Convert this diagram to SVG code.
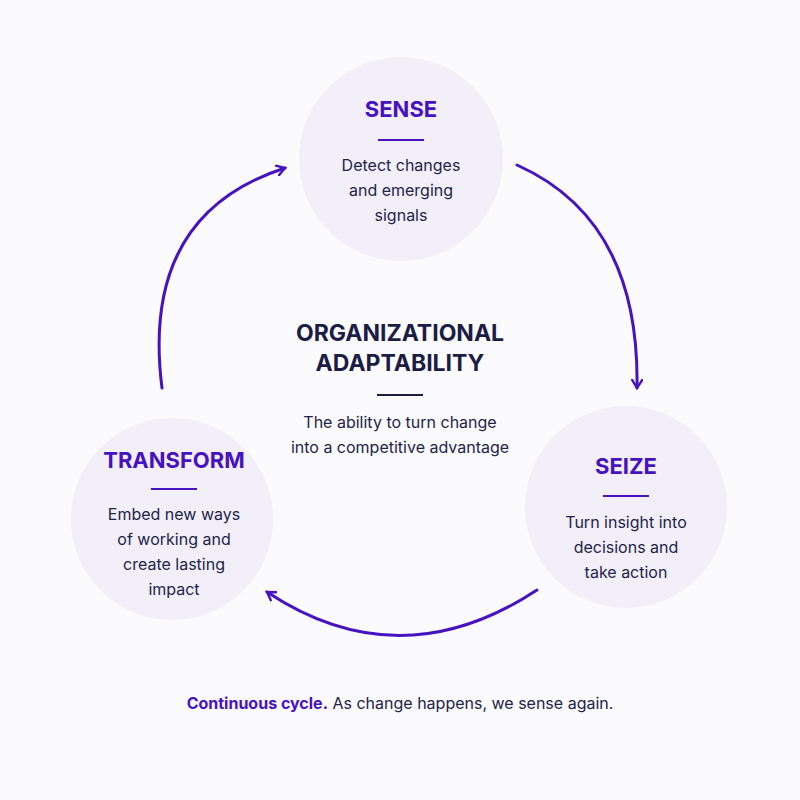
<svg xmlns="http://www.w3.org/2000/svg" width="800" height="800" viewBox="0 0 800 800">
<style>
.c{fill:#f2eff9}
.t{font-family:Inter,"Liberation Sans",sans-serif;font-weight:700;fill:#4712c0;text-anchor:middle}
.b{font-family:Inter,"Liberation Sans",sans-serif;font-size:16px;fill:#22244a;text-anchor:middle}
.r{stroke:#4712c0;stroke-width:2}
.a{fill:none;stroke:#4712c0;stroke-width:3;stroke-linecap:round}
</style>
<defs><marker id="m" viewBox="0 0 12 12" refX="9" refY="6" markerWidth="12" markerHeight="12" markerUnits="userSpaceOnUse" orient="auto"><path d="M1 1 L9 6 L1 11" fill="none" stroke="#4712c0" stroke-width="2.4" stroke-linecap="round"/></marker></defs>
<rect width="800" height="800" fill="#fbfafd"/>
<g id="connectors">
<path class="a" d="M517 165 Q640 220 637 388" marker-end="url(#m)"/>
<path class="a" d="M537 590 Q400 680 267 592" marker-end="url(#m)"/>
<path class="a" d="M162 388 Q140 215 285 168" marker-end="url(#m)"/>
</g>
<g id="sense"><circle class="c" cx="401" cy="159" r="102"/><text class="t" x="401" y="117" font-size="22">SENSE</text><line class="r" x1="378" y1="140" x2="424" y2="140"/><text class="b" x="401" y="171">Detect changes</text><text class="b" x="401" y="196">and emerging</text><text class="b" x="401" y="221">signals</text></g>
<g id="seize"><circle class="c" cx="626" cy="507" r="101"/><text class="t" x="626" y="474" font-size="22">SEIZE</text><line class="r" x1="603" y1="496" x2="649" y2="496"/><text class="b" x="626" y="528">Turn insight into</text><text class="b" x="626" y="553">decisions and</text><text class="b" x="626" y="578">take action</text></g>
<g id="transform"><circle class="c" cx="172" cy="519" r="101"/><text class="t" x="174" y="468" font-size="22">TRANSFORM</text><line class="r" x1="151" y1="489" x2="197" y2="489"/><text class="b" x="174" y="520">Embed new ways</text><text class="b" x="174" y="545">of working and</text><text class="b" x="174" y="570">create lasting</text><text class="b" x="174" y="595">impact</text></g>
<g id="center"><text x="400" y="341" font-family="Inter,'Liberation Sans',sans-serif" font-weight="700" font-size="23" fill="#1c1d45" text-anchor="middle">ORGANIZATIONAL</text><text x="400" y="371" font-family="Inter,'Liberation Sans',sans-serif" font-weight="700" font-size="23" fill="#1c1d45" text-anchor="middle">ADAPTABILITY</text><line x1="377" y1="395" x2="423" y2="395" stroke="#1c1d45" stroke-width="2"/><text class="b" x="400" y="428">The ability to turn change</text><text class="b" x="400" y="453">into a competitive advantage</text></g>
<text x="400" y="709" font-family="Inter,'Liberation Sans',sans-serif" font-size="16" fill="#22244a" text-anchor="middle"><tspan font-weight="700" fill="#4712c0">Continuous cycle.</tspan> As change happens, we sense again.</text>
</svg>
